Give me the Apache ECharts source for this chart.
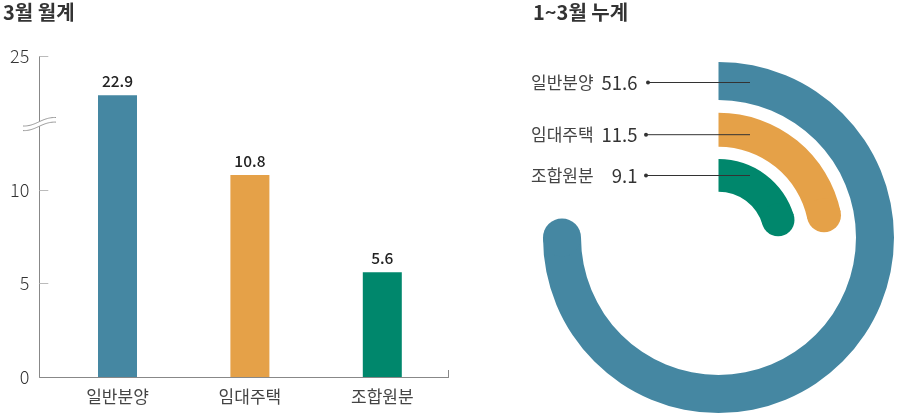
<!DOCTYPE html>
<html>
<head>
<meta charset="utf-8">
<script src="https://cdn.jsdelivr.net/npm/echarts@6.0.0/dist/echarts.min.js"></script>
<style>
html,body{margin:0;padding:0;background:#fff;}
#chart{width:900px;height:417px;}
</style>
</head>
<body>
<div id="chart"></div>
<script>
// ---- data ----
const categories = ['일반분양', '임대주택', '조합원분'];
const monthValues = [22.9, 10.8, 5.6];          // 3월 월계
const cumulativeValues = [51.6, 11.5, 9.1];     // 1~3월 누계
const yTickValues = [0, 5, 10, 25];
const leftTitle = '3월 월계';
const rightTitle = '1~3월 누계';
const ringAxisMax = [68.8, 53.0, 44.5];         // per-ring angle scale

// ---- styles ----
const colors = ['#4587a2', '#e5a148', '#00876c'];
const FONT = '"Noto Sans CJK KR", "Noto Sans", sans-serif';
const ringRadius = [[137.5, 175.5], [90.8, 124.8], [45.8, 78.5]];
const ringCenter = [718.5, 237.5];
const labelRowsY = [82.5, 134.7, 175.5];
const labelDotX = [648, 646, 646];

const chart = echarts.init(document.getElementById('chart'), null, {renderer: 'canvas'});

// break wave decoration
function bez(p0, p1, p2, p3, t) {
  const u = 1 - t;
  return [
    u*u*u*p0[0] + 3*u*u*t*p1[0] + 3*u*t*t*p2[0] + t*t*t*p3[0],
    u*u*u*p0[1] + 3*u*u*t*p1[1] + 3*u*t*t*p2[1] + t*t*t*p3[1]
  ];
}
function wavePts(dy) {
  const pts = [];
  for (let i = 0; i <= 30; i++) {
    pts.push(bez([23, 126 + dy], [36, 126.5 + dy], [42, 117 + dy], [56, 117.5 + dy], i / 30));
  }
  return pts;
}
const topW = wavePts(0), botW = wavePts(4.6);
const gapPoly = topW.concat(botW.slice().reverse());

const graphics = [
  {type: 'text', left: 3, top: 2, style: {text: leftTitle, font: 'bold 20px ' + FONT, fill: '#333'}},
  {type: 'text', left: 533, top: 2, style: {text: rightTitle, font: 'bold 20px ' + FONT, fill: '#333'}},
  {type: 'polygon', z: 100, shape: {points: gapPoly}, style: {fill: '#fff', stroke: null}},
  {type: 'polyline', z: 101, shape: {points: topW}, style: {stroke: '#999', lineWidth: 1, fill: null}},
  {type: 'polyline', z: 101, shape: {points: botW}, style: {stroke: '#999', lineWidth: 1, fill: null}},
  {type: 'line', z: 100, shape: {x1: 39.3, y1: 377.5, x2: 52, y2: 377.5}, style: {stroke: '#888', lineWidth: 1}},
  {type: 'line', z: 100, shape: {x1: 448.5, y1: 370, x2: 448.5, y2: 377.5}, style: {stroke: '#888', lineWidth: 1}}
];
categories.forEach((c, i) => {
  const y = labelRowsY[i];
  graphics.push({type: 'text', z: 100, x: 531, y: y, style: {text: c, font: '17px ' + FONT, fill: '#444', textVerticalAlign: 'middle', textAlign: 'left'}});
  graphics.push({type: 'text', z: 100, x: 637.5, y: y, style: {text: String(cumulativeValues[i]), font: '18.5px ' + FONT, fill: '#333', textVerticalAlign: 'middle', textAlign: 'right'}});
  graphics.push({type: 'line', z: 100, shape: {x1: labelDotX[i], y1: y, x2: 750, y2: y}, style: {stroke: '#333', lineWidth: 1}});
  graphics.push({type: 'circle', z: 100, shape: {cx: labelDotX[i], cy: y, r: 2}, style: {fill: '#333'}});
});

const polar = [], angleAxis = [], radiusAxis = [], ringSeries = [];
categories.forEach((c, i) => {
  polar.push({center: ringCenter, radius: ringRadius[i]});
  angleAxis.push({polarIndex: i, type: 'value', min: 0, max: ringAxisMax[i], startAngle: 90, clockwise: true, show: false});
  radiusAxis.push({polarIndex: i, type: 'category', data: [c], show: false});
  ringSeries.push({
    type: 'bar', coordinateSystem: 'polar', polarIndex: i, barWidth: '100%', silent: true,
    data: [cumulativeValues[i]], itemStyle: {color: colors[i]}, animation: false
  });
  ringSeries.push({
    type: 'scatter', coordinateSystem: 'polar', polarIndex: i, silent: true,
    symbol: 'circle', symbolSize: ringRadius[i][1] - ringRadius[i][0],
    data: [[0, cumulativeValues[i]]], itemStyle: {color: colors[i], opacity: 1}, animation: false
  });
});

const option = {
  animation: false,
  textStyle: {fontFamily: FONT},
  grid: {left: 51.3, width: 397.2, top: 56, bottom: 40, containLabel: false},
  xAxis: {
    type: 'category', data: categories,
    axisLine: {lineStyle: {color: '#888', width: 1}},
    axisTick: {show: false},
    axisLabel: {color: '#444', fontSize: 17, margin: 11, fontFamily: FONT}
  },
  yAxis: {
    type: 'value', min: 0, max: 25, interval: 5, offset: 12,
    breaks: [{start: 13.5, end: 21.5, gap: '1%'}],
    breakArea: {show: false, expandOnClick: false, itemStyle: {color: 'rgba(0,0,0,0)', borderColor: 'rgba(0,0,0,0)'}},
    axisLine: {show: true, lineStyle: {color: '#888', width: 1}},
    axisTick: {show: true, inside: true, length: 9, lineStyle: {color: '#bbb'}, customValues: yTickValues},
    axisLabel: {
      color: '#333', fontSize: 18, fontWeight: 300, margin: 10, fontFamily: FONT, customValues: yTickValues,
      formatter: v => (yTickValues.indexOf(v) >= 0 ? String(v) : '')
    },
    splitLine: {show: false}
  },
  polar: polar,
  angleAxis: angleAxis,
  radiusAxis: radiusAxis,
  series: [{
    type: 'bar', barWidth: 39, silent: true,
    data: monthValues.map((v, i) => ({value: v, itemStyle: {color: colors[i]}})),
    label: {show: true, position: 'top', distance: 6, color: '#222', fontSize: 15.5, fontWeight: 500, fontFamily: FONT}
  }].concat(ringSeries),
  graphic: graphics
};
chart.setOption(option);
</script>
</body>
</html>
